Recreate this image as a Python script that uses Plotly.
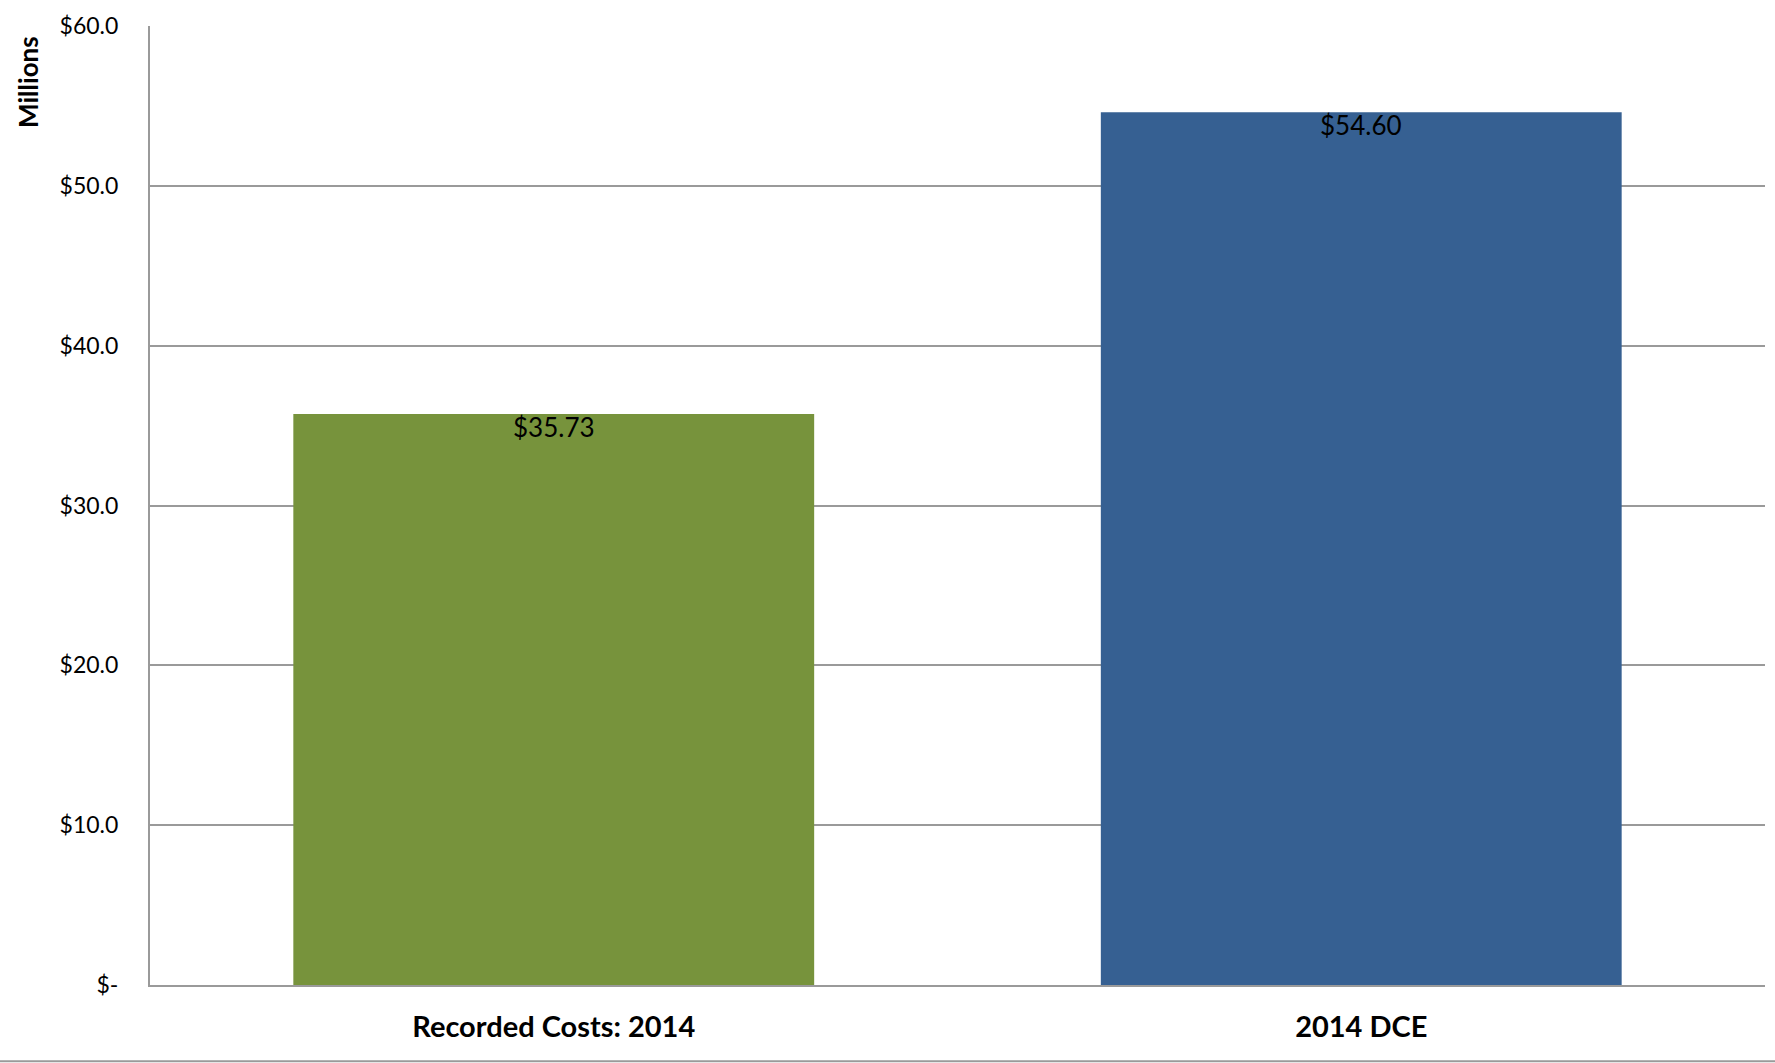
import plotly.graph_objects as go

categories = ["Recorded Costs: 2014", "2014 DCE"]
values = [35.73, 54.60]
bar_colors = ["#77933C", "#366092"]
value_labels = ["$35.73", "$54.60"]
tick_vals = [0, 10, 20, 30, 40, 50, 60]
tick_text = ["$-", "$10.0", "$20.0", "$30.0", "$40.0", "$50.0", "$60.0"]

FONT = "Lato"

fig = go.Figure()
fig.add_trace(go.Bar(
    x=categories, y=values,
    marker=dict(color=bar_colors, line=dict(width=0)),
    width=0.645,
    hoverinfo="x+y",
))

label_annotations = [
    dict(x=c, y=v, xref="x", yref="y", text=t, showarrow=False,
         xanchor="center", yanchor="top", yshift=5,
         font=dict(family=FONT, size=26, color="black"))
    for c, v, t in zip(categories, values, value_labels)
]

fig.update_layout(
    width=1775, height=1063,
    margin=dict(l=150, r=10, t=26, b=78),
    paper_bgcolor="white", plot_bgcolor="white",
    showlegend=False,
    font=dict(family=FONT, color="black"),
    xaxis=dict(
        showgrid=False, showline=True, linecolor="#9a9a9a", linewidth=2,
        tickfont=dict(family=FONT, size=29, color="black", weight="bold"),
        ticklabelstandoff=15,
        mirror=False,
    ),
    yaxis=dict(
        range=[0, 60], tickvals=tick_vals, ticktext=tick_text,
        showgrid=True, gridcolor="#9a9a9a", gridwidth=2,
        showline=True, linecolor="#9a9a9a", linewidth=2,
        tickfont=dict(family=FONT, size=23, color="black"),
        ticklabelstandoff=25,
        zeroline=False,
    ),
    annotations=label_annotations + [dict(
        text="<b>Millions</b>", xref="paper", yref="paper",
        x=-0.076, y=0.942, xanchor="center", yanchor="middle",
        textangle=-90, showarrow=False,
        font=dict(family=FONT, size=26, color="black"),
    )],
    shapes=[dict(
        type="line", xref="paper", yref="paper",
        x0=-0.1, x1=1.01, y0=-0.0795, y1=-0.0795,
        line=dict(color="#9a9a9a", width=2),
    )],
)

fig.write_html(
    "out.html",
    config={"displayModeBar": False},
    post_script="document.body.style.margin='0px';document.body.style.overflow='hidden';",
)
